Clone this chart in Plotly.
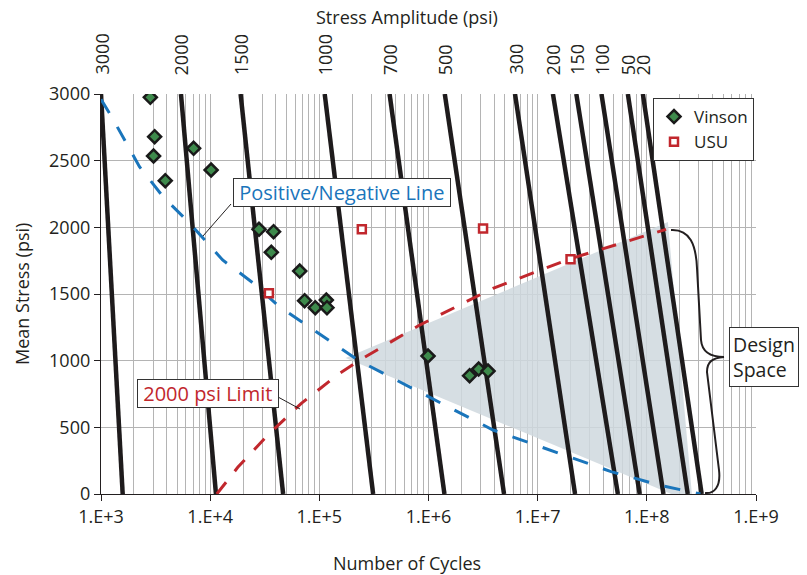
import math
import plotly.graph_objects as go

# ---------------- data ----------------
amplitude_labels = ["3000", "2000", "1500", "1000", "700", "500", "300", "200", "150", "100", "50", "20"]
cycles_at_mean_3000 = [1.0e3, 5.4e3, 1.9e4, 1.12e5, 4.4e5, 1.41e6, 6.2e6, 1.38e7, 2.26e7, 3.84e7, 6.7e7, 9.2e7]
cycles_at_mean_0 = [1.58e3, 1.13e4, 4.66e4, 3.11e5, 1.40e6, 4.92e6, 2.2e7, 5.43e7, 8.6e7, 1.42e8, 2.37e8, 3.18e8]

vinson_cycles = [2830, 3100, 3030, 3880, 7050, 10200, 28000, 38100, 36300, 66100,
                 73300, 91800, 115800, 117500, 9.9e5, 2.38e6, 2.88e6, 3.51e6]
vinson_mean = [2975, 2680, 2535, 2350, 2593, 2430, 1985, 1967, 1813, 1672,
               1450, 1397, 1455, 1397, 1035, 887, 937, 922]

usu_cycles = [34500, 2.45e5, 3.16e6, 2.0e7]
usu_mean = [1505, 1985, 1992, 1760]

posneg_cycles = [1.0e3, 1.25e3, 2.25e3, 3.7e3, 6.5e3, 1.3e4, 2.5e4, 4.3e4, 2.3e5, 3.9e6, 4.7e7, 1.3e8, 3.1e8]
posneg_mean = [2960, 2830, 2455, 2230, 2030, 1755, 1580, 1405, 1000, 480, 168, 67, 0]

limit_cycles = [1.15e4, 1.79e4, 3.38e4, 6.84e4, 1.53e5, 2.3e5, 8.3e5, 3.9e6, 1.95e7, 1.31e8, 1.5e8]
limit_mean = [0, 200, 443, 680, 905, 1000, 1267, 1543, 1762, 1975, 1985]

design_cycles = [1.74e5, 1.56e8, 2.63e8]
design_mean = [1020, 2040, -67]

x_tick_vals = [1e3, 1e4, 1e5, 1e6, 1e7, 1e8, 1e9]
x_tick_text = ["1.E+3", "1.E+4", "1.E+5", "1.E+6", "1.E+7", "1.E+8", "1.E+9"]

# ---------------- layout helpers ----------------
W, H = 807, 575
ML, MR, MT, MB = 101, 51, 94, 81
PW, PH = W - ML - MR, H - MT - MB


def px(x):
    return (x - ML) / PW


def py(y):
    return (H - MB - y) / PH


FONT = "'Open Sans', Lato, sans-serif"
TXT = "#231f20"
BLUE = "#1a75bb"
RED = "#c1272d"
GRID = "#b4b4b4"
NB = "\u00a0"

fig = go.Figure()

# design space
fig.add_trace(go.Scatter(x=design_cycles, y=design_mean, fill="toself", mode="lines",
                         line=dict(width=0), fillcolor="rgba(207,216,222,0.85)",
                         hoverinfo="skip", showlegend=False))

# constant amplitude lines
for lab, a, b in zip(amplitude_labels, cycles_at_mean_3000, cycles_at_mean_0):
    fig.add_trace(go.Scatter(x=[a, b], y=[3000, 0], mode="lines",
                             line=dict(color="#1e1b1c", width=4.5),
                             showlegend=False, name=lab))

fig.add_trace(go.Scatter(x=posneg_cycles, y=posneg_mean, mode="lines",
                         line=dict(color=BLUE, width=3, dash="16px,16px"),
                         showlegend=False))
fig.add_trace(go.Scatter(x=limit_cycles, y=limit_mean, mode="lines",
                         line=dict(color=RED, width=3, dash="15px,14px"),
                         showlegend=False))

fig.add_trace(go.Scatter(x=vinson_cycles, y=vinson_mean, mode="markers", name="Vinson",
                         marker=dict(symbol="diamond", size=10, color="#3e8a4c",
                                     line=dict(color="#1a1a1a", width=2.5))))
fig.add_trace(go.Scatter(x=usu_cycles, y=usu_mean, mode="markers", name="USU",
                         marker=dict(symbol="square", size=8, color="white",
                                     line=dict(color=RED, width=2.5))))

minor_vals = [m * 10 ** e for e in range(3, 9) for m in range(2, 10)]

fig.update_layout(
    width=W, height=H,
    margin=dict(l=ML, r=MR, t=MT, b=MB),
    paper_bgcolor="white", plot_bgcolor="white",
    font=dict(family=FONT, size=18, color=TXT),
    showlegend=True,
    legend=dict(x=px(754), y=py(98), xanchor="right", yanchor="top",
                bgcolor="white", bordercolor="#333", borderwidth=1,
                font=dict(size=17, color=TXT), itemwidth=30, tracegroupgap=0),
    xaxis=dict(type="log", range=[3, 9], tickmode="array", tickvals=x_tick_vals,
               ticktext=x_tick_text, showgrid=True, gridcolor=GRID, gridwidth=1.3,
               ticks="outside", ticklen=6, tickcolor="#231f20", tickwidth=1.3,
               showline=True, linecolor="#231f20", linewidth=1.3,
               tickfont=dict(size=18), automargin=False, zeroline=False,
               minor=dict(tickmode="array", tickvals=minor_vals, showgrid=True,
                          gridcolor=GRID, gridwidth=1.3, ticks="")),
    yaxis=dict(range=[0, 3000], dtick=500, tick0=0, showgrid=True, gridcolor=GRID,
               gridwidth=1.3, ticks="outside", ticklen=6, tickcolor="#231f20",
               tickwidth=1.3, showline=True, linecolor="#231f20", linewidth=1.3,
               tickfont=dict(size=18), automargin=False, zeroline=False),
)

ann = []
# top amplitude labels
for lab, a in zip(amplitude_labels, cycles_at_mean_3000):
    ann.append(dict(x=math.log10(a), y=py(77), xref="x", yref="paper", text=lab,
                    textangle=-90, showarrow=False, xanchor="center", yanchor="bottom",
                    font=dict(size=18, color=TXT)))
ann.append(dict(x=px(407), y=py(17), xref="paper", yref="paper", text="Stress Amplitude (psi)",
                showarrow=False, xanchor="center", yanchor="middle", font=dict(size=18)))
ann.append(dict(x=px(407), y=py(563), xref="paper", yref="paper", text="Number of Cycles",
                showarrow=False, xanchor="center", yanchor="middle", font=dict(size=18)))
ann.append(dict(x=px(22), y=py(294), xref="paper", yref="paper", text="Mean Stress (psi)",
                textangle=-90, showarrow=False, xanchor="center", yanchor="middle",
                font=dict(size=18)))
ann.append(dict(x=px(341.5), y=py(192), xref="paper", yref="paper",
                text=NB + "Positive/Negative Line" + NB,
                showarrow=False, xanchor="center", yanchor="middle", bgcolor="white",
                bordercolor="#333", borderwidth=1, borderpad=0,
                font=dict(size=20, color=BLUE)))
ann.append(dict(x=px(208), y=py(393), xref="paper", yref="paper",
                text=NB + "2000 psi Limit" + NB,
                showarrow=False, xanchor="center", yanchor="middle", bgcolor="white",
                bordercolor="#333", borderwidth=1, borderpad=0,
                font=dict(size=20, color=RED)))
ann.append(dict(x=px(729), y=py(357), xref="paper", yref="paper", text="Design<br>Space",
                showarrow=False, xanchor="left", yanchor="middle", bgcolor="white",
                bordercolor="#333", borderwidth=1, borderpad=3, align="left",
                font=dict(size=19.5, color=TXT)))
fig.update_layout(annotations=ann)

shapes = []
for (x0, y0, x1, y1) in [(231, 204, 203, 236), (278, 397, 300, 409)]:
    shapes.append(dict(type="line", xref="paper", yref="paper", x0=px(x0), y0=py(y0),
                       x1=px(x1), y1=py(y1), line=dict(color="#231f20", width=1)))

brace_pts = [("M", [(671, 230)]),
             ("C", [(690, 229), (696, 245), (697, 268)]),
             ("L", [(701, 340)]),
             ("C", [(702, 352), (710, 357), (724, 357)]),
             ("C", [(712, 358), (707, 362), (707, 372)]),
             ("L", [(719, 470)]),
             ("C", [(721, 487), (714, 494), (705, 493)])]
path = ""
for cmd, pts in brace_pts:
    path += cmd + " " + " ".join(f"{px(a):.5f},{py(b):.5f}" for a, b in pts) + " "
shapes.append(dict(type="path", xref="paper", yref="paper", path=path.strip(),
                   line=dict(color="#231f20", width=2)))
fig.update_layout(shapes=shapes)

fig.write_html("out.html", config={"displayModeBar": False},
               post_script="document.body.style.margin='0px';")
